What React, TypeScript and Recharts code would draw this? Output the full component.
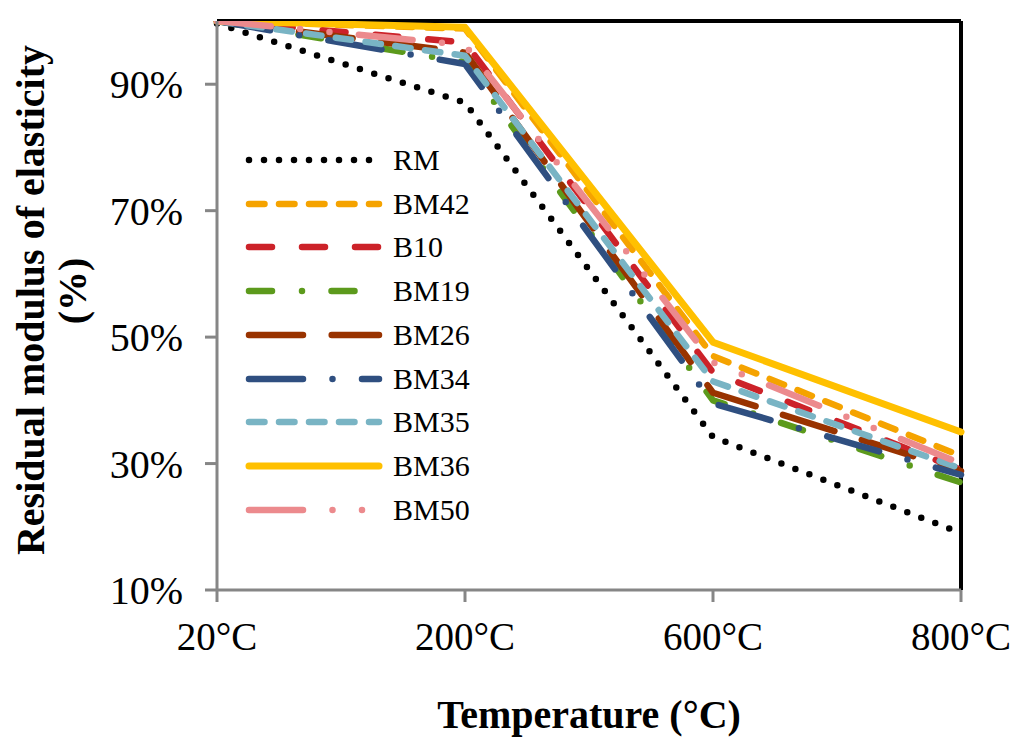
import React from 'react';
import { LineChart, Line, XAxis, YAxis, Legend, ReferenceLine } from 'recharts';

// categories and tick values
const temperatures = ['20°C', '200°C', '600°C', '800°C'];
const yTicks = [10, 30, 50, 70, 90];

// residual modulus of elasticity (%) per mix
const rm = [99.6, 87.1, 34.2, 19];
const bm42 = [100, 98.8, 47, 31.2];
const b10 = [100, 96.6, 44.4, 29];
const bm19 = [100, 93.5, 40, 27];
const bm26 = [100, 95, 41.2, 28.8];
const bm34 = [100, 93.2, 39.5, 28.2];
const bm35 = [100, 94.5, 43, 29.2];
const bm36 = [100, 99, 49.2, 35];
const bm50 = [100, 96.2, 46, 30];

const seriesNames = ['RM', 'BM42', 'B10', 'BM19', 'BM26', 'BM34', 'BM35', 'BM36', 'BM50'];
const seriesValues = [rm, bm42, b10, bm19, bm26, bm34, bm35, bm36, bm50];

const FONT = '"Liberation Serif", "Times New Roman", serif';
const AXIS_GREY = '#868686';

// line looks (Excel-ish dash patterns with round caps)
const lineStyle: Record<string, { color: string; dash?: string; width: number }> = {
  RM: { color: '#000000', dash: '0 15', width: 6.5 },
  BM42: { color: '#F5A300', dash: '15.5 14.5', width: 6.5 },
  B10: { color: '#CC2229', dash: '23 30', width: 6.5 },
  BM19: { color: '#5C9A1C', dash: '23 30 0 29.5', width: 6.5 },
  BM26: { color: '#993300', dash: '54 28.7', width: 6.5 },
  BM34: { color: '#2F4F80', dash: '54 29.5 0 29.5', width: 6.5 },
  BM35: { color: '#79B4C4', dash: '15.5 14.5', width: 6.5 },
  BM36: { color: '#FFC000', width: 7 },
  BM50: { color: '#EC8A8D', dash: '54 29.5 0 29.5 0 29.5', width: 6.5 },
};

const data = temperatures.map((t, i) => {
  const row: Record<string, string | number> = { temp: t };
  seriesNames.forEach((name, s) => {
    row[name] = seriesValues[s][i];
  });
  return row;
});

function LegendRows(props: any) {
  const payload = [...(props.payload || [])].sort(
    (a: any, b: any) => seriesNames.indexOf(a.value) - seriesNames.indexOf(b.value)
  );
  return (
    <div style={{ fontFamily: FONT }}>
      {payload.map((entry: any) => {
        const st = lineStyle[entry.value];
        return (
          <div key={entry.value} style={{ display: 'flex', alignItems: 'center', height: 43.75 }}>
            <svg width={150} height={14}>
              <line
                x1={9}
                x2={139}
                y1={7}
                y2={7}
                stroke={st.color}
                strokeWidth={st.width}
                strokeDasharray={st.dash}
                strokeLinecap="round"
              />
            </svg>
            <span style={{ marginLeft: 3, fontSize: 30, color: '#000', lineHeight: '30px' }}>{entry.value}</span>
          </div>
        );
      })}
    </div>
  );
}

function YTitle() {
  return (
    <g fontFamily={FONT} fontWeight="bold" fontSize={40} fill="#000">
      <text x={44} y={300} textAnchor="middle" transform="rotate(-90, 44, 300)">
        Residual modulus of elasticity
      </text>
      <text x={86} y={291} textAnchor="middle" transform="rotate(-90, 86, 291)">
        (%)
      </text>
    </g>
  );
}

function XTitle() {
  return (
    <text x={589} y={728} textAnchor="middle" fontFamily={FONT} fontWeight="bold" fontSize={40} fill="#000">
      Temperature (°C)
    </text>
  );
}

export default function App() {
  return (
    <div style={{ position: 'absolute', left: 0, top: 0, width: 1024, height: 747, background: '#fff' }}>
      <LineChart width={1024} height={747} data={data} margin={{ top: 21, right: 63, left: 0, bottom: 0 }}>
        <XAxis
          dataKey="temp"
          padding={{ left: 0, right: 0 }}
          height={157}
          axisLine={{ stroke: AXIS_GREY, strokeWidth: 3 }}
          tickLine={{ stroke: AXIS_GREY, strokeWidth: 3 }}
          tickSize={12}
          tickMargin={20}
          tick={{ fontFamily: FONT, fontSize: 39, fill: '#000' }}
          label={{ content: XTitle }}
        />
        <YAxis
          domain={[10, 100]}
          ticks={yTicks}
          allowDataOverflow
          width={217}
          tickFormatter={(v: number) => `${v}%`}
          axisLine={{ stroke: AXIS_GREY, strokeWidth: 3 }}
          tickLine={{ stroke: AXIS_GREY, strokeWidth: 3 }}
          tickSize={12}
          tickMargin={22}
          tick={{ fontFamily: FONT, fontSize: 40, fill: '#000' }}
          label={{ content: YTitle }}
        />
        <ReferenceLine y={100} stroke="#000" strokeWidth={4} />
        <ReferenceLine x="800°C" stroke="#000" strokeWidth={4} />
        {seriesNames.map((name) => (
          <Line
            key={name}
            type="linear"
            dataKey={name}
            name={name}
            stroke={lineStyle[name].color}
            strokeWidth={lineStyle[name].width}
            strokeDasharray={lineStyle[name].dash}
            strokeLinecap="round"
            strokeLinejoin="round"
            dot={false}
            activeDot={false}
            isAnimationActive={false}
          />
        ))}
        <Legend
          layout="horizontal"
          verticalAlign="middle"
          align="center"
          wrapperStyle={{ left: 240, top: 138, width: 240 }}
          content={LegendRows}
        />
      </LineChart>
    </div>
  );
}
